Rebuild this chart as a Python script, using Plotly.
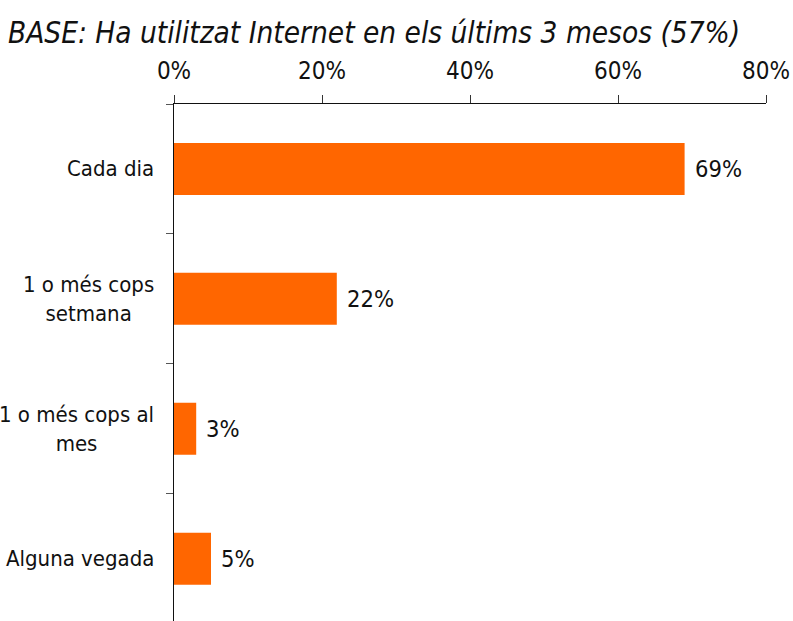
import plotly.graph_objects as go

categories = ["Cada dia", "1 o més cops<br>setmana", "1 o més cops al<br>mes", "Alguna vegada"]
values = [69, 22, 3, 5]
value_labels = ["69%", "22%", "3%", "5%"]
x_ticks = [0, 20, 40, 60, 80]
x_tick_labels = ["0%", "20%", "40%", "60%", "80%"]
title_text = "BASE: Ha utilitzat Internet en els últims 3 mesos (57%)"

ORANGE = "#FF6600"
COND = "DejaVu Sans Condensed, DejaVu Sans"
LABEL_FONT = dict(family=COND, size=22, color="#111111")

fig = go.Figure()

fig.add_trace(
    go.Bar(
        x=values,
        y=categories,
        orientation="h",
        width=0.4,
        marker=dict(color=ORANGE, line=dict(width=0)),
        hoverinfo="skip",
        showlegend=False,
    )
)

# category labels: right-aligned block, lines centred (as in the original)
for cat in categories:
    fig.add_annotation(
        x=0, xref="paper", y=cat, yref="y",
        text=cat, showarrow=False,
        xanchor="right", yanchor="middle", align="center",
        xshift=-18, font=LABEL_FONT,
    )

# value labels to the right of each bar
for v, lab, cat in zip(values, value_labels, categories):
    fig.add_annotation(
        x=v, xref="x", y=cat, yref="y",
        text=lab, showarrow=False,
        xanchor="left", yanchor="middle",
        xshift=8, font=dict(family=COND, size=23.5, color="#111111"),
    )

fig.update_layout(
    title=dict(
        text=title_text,
        x=0.01, xanchor="left", y=0.947, yanchor="middle",
        font=dict(family=COND, size=29.5, color="#111111", style="italic"),
    ),
    xaxis=dict(
        side="top",
        range=[0, 80],
        tickvals=x_ticks,
        ticktext=x_tick_labels,
        ticks="outside",
        ticklen=8,
        tickcolor="#333333",
        showline=True,
        linecolor="#111111",
        showgrid=False,
        zeroline=False,
        automargin=False,
        ticklabelstandoff=6,
        tickfont=dict(family=COND, size=24, color="#111111"),
    ),
    yaxis=dict(
        range=[3.48, -0.5],
        ticks="outside",
        tickson="boundaries",
        ticklen=7,
        tickcolor="#555555",
        showticklabels=False,
        showline=True,
        linecolor="#111111",
        showgrid=False,
        zeroline=False,
        automargin=False,
    ),
    plot_bgcolor="white",
    paper_bgcolor="white",
    width=793,
    height=621,
    margin=dict(l=174, r=27, t=104, b=0, autoexpand=False),
)

# drop the default 8px body margin so the figure fills the window
fig.write_html(
    "out.html",
    config={"displayModeBar": False},
    post_script="document.body.style.margin='0';",
)
